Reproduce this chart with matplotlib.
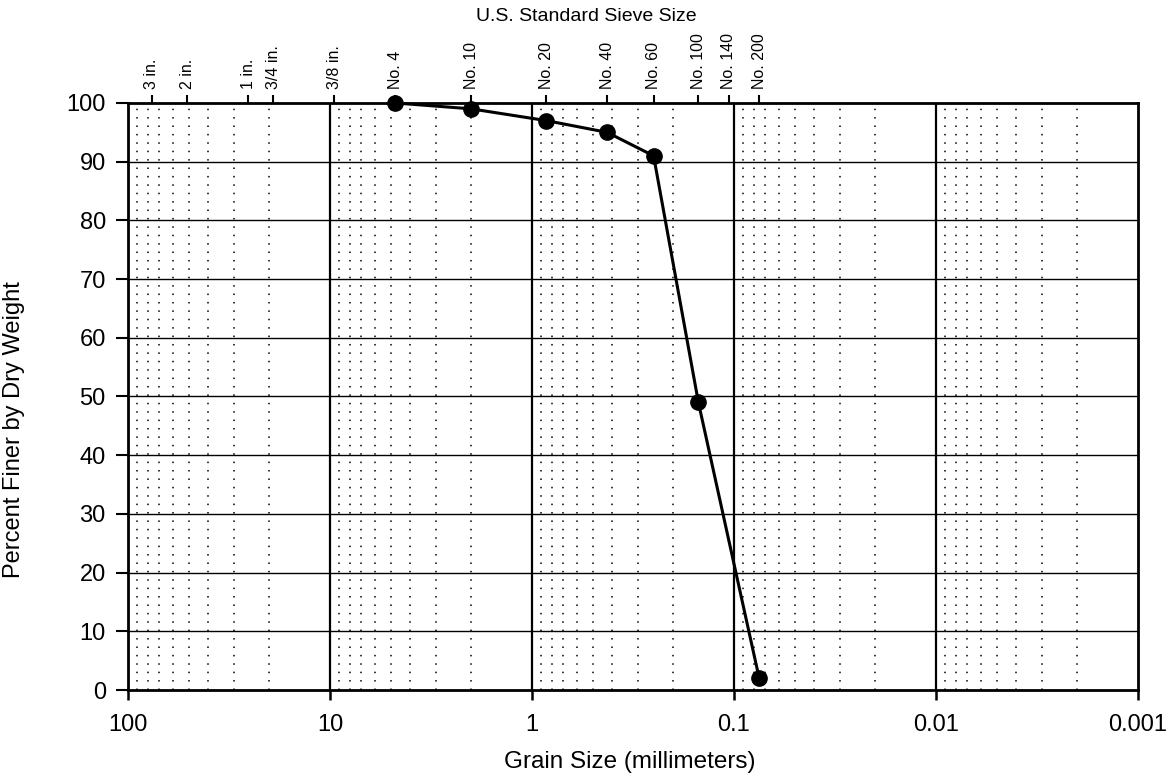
import numpy as np
import matplotlib.pyplot as plt
from matplotlib.ticker import FixedLocator, NullFormatter

plt.rcParams['font.family'] = ['Liberation Sans', 'DejaVu Sans']

# sieve analysis results
grain_size = [4.75, 2.0, 0.85, 0.425, 0.25, 0.15, 0.075]   # mm
pct_finer = [100, 99, 97, 95, 91, 49, 2]

# top axis: US standard sieves
sieve_mm = [76.2, 50.8, 25.4, 19.05, 9.525, 4.75, 2.0, 0.85, 0.425, 0.25, 0.15, 0.106, 0.075]
sieve_labels = ["3 in.", "2 in.", "1 in.", "3/4 in.", "3/8 in.", "No. 4", "No. 10",
                "No. 20", "No. 40", "No. 60", "No. 100", "No. 140", "No. 200"]

x_ticks = [100, 10, 1, 0.1, 0.01, 0.001]
x_ticklabels = ["100", "10", "1", "0.1", "0.01", "0.001"]
y_ticks = [0, 10, 20, 30, 40, 50, 60, 70, 80, 90, 100]

fig = plt.figure(figsize=(11.7, 7.76), dpi=100)
ax = fig.add_axes([0.1094, 0.1108, 0.8632, 0.7565])

ax.set_xscale('log')
ax.set_xlim(100, 0.001)
ax.set_ylim(0, 100)

# grid: dotted minor verticals, solid decades and horizontals
minor = [m * 10.0**e for e in range(-3, 2) for m in range(2, 10)]
for v in minor:
    ax.axvline(v, color='black', lw=1.1, ls=(0, (1, 4.5)), zorder=1)
for v in x_ticks[1:-1]:
    ax.axvline(v, color='black', lw=1.6, zorder=1)
for v in y_ticks[1:-1]:
    ax.axhline(v, color='black', lw=1.0, zorder=1)

ax.plot(grain_size, pct_finer, color='black', lw=2.2, marker='o', ms=11,
        zorder=5, clip_on=False)

ax.xaxis.set_major_locator(FixedLocator(x_ticks))
ax.set_xticklabels(x_ticklabels)
ax.xaxis.set_minor_locator(FixedLocator([]))
ax.xaxis.set_minor_formatter(NullFormatter())
ax.set_yticks(y_ticks)
ax.tick_params(axis='x', direction='out', length=7, width=1.8, labelsize=17, pad=10)
ax.tick_params(axis='y', direction='out', length=9, width=1.5, labelsize=17, pad=7)
for s in ax.spines.values():
    s.set_linewidth(2)

ax.set_xlabel("Grain Size (millimeters)", fontsize=17.5, va='top')
ax.xaxis.set_label_coords(0.4965, -0.104)
ax.set_ylabel("Percent Finer by Dry Weight", fontsize=17)
ax.yaxis.set_label_coords(-0.102, 0.443)

# top sieve axis
top = ax.twiny()
top.set_xscale('log')
top.set_xlim(ax.get_xlim())
top.xaxis.set_major_locator(FixedLocator(sieve_mm))
top.xaxis.set_minor_locator(FixedLocator([]))
top.set_xticklabels(sieve_labels, rotation=90, fontsize=11.5)
top.tick_params(axis='x', direction='out', length=6, width=1.5, pad=4)
top.set_xlabel("U.S. Standard Sieve Size", fontsize=14)
top.xaxis.set_label_coords(0.4535, 1.139)
for s in top.spines.values():
    s.set_visible(False)

fig.savefig("out.png", dpi=100)
